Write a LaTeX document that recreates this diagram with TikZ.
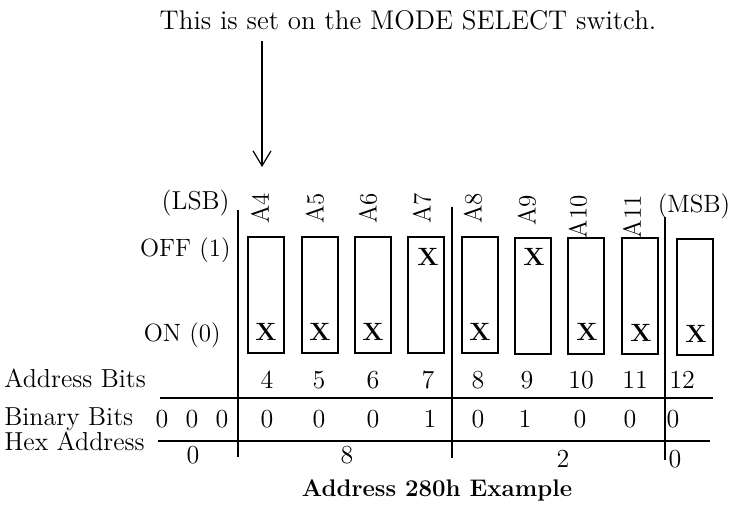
\documentclass[tikz,border=0pt]{standalone}
\usepackage{tikz}
\usetikzlibrary{arrows.meta}

\begin{document}
\begin{tikzpicture}[
    x=0.5pt, y=-0.5pt,
    % Styles for the switch picture
    switch/.style={draw, line width=1.3pt, minimum width=18pt, minimum height=58pt, inner sep=0pt},
    xmark/.style={font=\fontsize{12.5}{14}\bfseries\selectfont, inner sep=0pt},
    lbl/.style={font=\fontsize{13}{15}\selectfont, inner sep=0pt, anchor=base},
    bitname/.style={font=\fontsize{12.5}{14}\selectfont, inner sep=0pt, rotate=90, anchor=east},
    rule/.style={line width=1.1pt},
    pointer/.style={line width=0.6pt, -{Straight Barb[length=7.5pt, width=9pt]}}
]
    \useasboundingbox (0,0) rectangle (733,507);

        % --- Note and arrow ---
        \node[font=\fontsize{13.5}{16}\selectfont, inner sep=5pt, anchor=base] (note) at (408,30) {This is set on the MODE SELECT switch.};
        \coordinate (tip) at (262,167);
        \draw[pointer] (note.south -| tip) -- (tip);

        % --- Side labels ---
        \node[lbl, anchor=base east] (lsb) at (230,210) {(LSB)};
        \node[lbl, font=\fontsize{12.5}{15}\selectfont] (msb) at (694,213) {(MSB)};
        \node[lbl, anchor=base east, font=\fontsize{12.5}{15}\selectfont] (off) at (231,257) {OFF (1)};
        \node[lbl, anchor=base east, font=\fontsize{12.5}{15}\selectfont] (on) at (221,342) {ON (0)};

        % --- Bit names ---
        \node[bitname] (a4) at (260,193) {A4};
        \node[bitname] (a5) at (315,193) {A5};
        \node[bitname] (a6) at (368,193) {A6};
        \node[bitname] (a7) at (422,193) {A7};
        \node[bitname] (a8) at (473,193) {A8};
        \node[bitname] (a9) at (527,195) {A9};
        \node[bitname] (a10) at (578,195) {A10};
        \node[bitname] (a11) at (632,195) {A11};

        % --- Switches ---
        \node[switch] (sw4) at (266,295) {};
        \node[switch] (sw5) at (320,295) {};
        \node[switch] (sw6) at (373,295) {};
        \node[switch] (sw7) at (426,295) {};
        \node[switch] (sw8) at (480,295) {};
        \node[switch] (sw9) at (533,296) {};
        \node[switch] (sw10) at (586,296) {};
        \node[switch] (sw11) at (640,296) {};
        \node[switch] (sw12) at (695,297) {};

        % --- Switch settings ---
        \node[xmark] (x4) at (266,332) {X};
        \node[xmark] (x5) at (320,332) {X};
        \node[xmark] (x6) at (373,332) {X};
        \node[xmark] (x7) at (428,257) {X};
        \node[xmark] (x8) at (480,332) {X};
        \node[xmark] (x9) at (534,257) {X};
        \node[xmark] (x10) at (587,332) {X};
        \node[xmark] (x11) at (641,333) {X};
        \node[xmark] (x12) at (696,334) {X};

        % --- Table rules ---
        \draw[rule] (238,210) -- (238,457);
        \draw[rule] (452,207) -- (452,458);
        \draw[rule] (665,217) -- (665,460);
        \draw[rule] (160,398) -- (713,398);
        \draw[rule] (158,441) -- (710,441);

        % --- Address bits row ---
        \node[lbl, anchor=base west] (addr) at (4,387) {Address Bits};
        \node[lbl] (n4) at (267,388) {4};
        \node[lbl] (n5) at (319,388) {5};
        \node[lbl] (n6) at (373,388) {6};
        \node[lbl] (n7) at (428,388) {7};
        \node[lbl] (n8) at (478,388) {8};
        \node[lbl] (n9) at (527,388) {9};
        \node[lbl] (n10) at (581,388) {10};
        \node[lbl] (n11) at (635,388) {11};
        \node[lbl] (n12) at (682,388) {12};

        % --- Binary bits row ---
        \node[lbl, anchor=base west] (bin) at (4,425) {Binary Bits};
        \node[lbl] (b1) at (162,427) {0};
        \node[lbl] (b2) at (192,427) {0};
        \node[lbl] (b3) at (222,427) {0};
        \node[lbl] (b4) at (267,427) {0};
        \node[lbl] (b5) at (319,427) {0};
        \node[lbl] (b6) at (373,427) {0};
        \node[lbl] (b7) at (430,427) {1};
        \node[lbl] (b8) at (478,427) {0};
        \node[lbl] (b9) at (525,427) {1};
        \node[lbl] (b10) at (580,427) {0};
        \node[lbl] (b11) at (630,427) {0};
        \node[lbl] (b12) at (673,427) {0};

        % --- Hex address row ---
        \node[lbl, anchor=base west] (hex) at (4,450) {Hex Address};
        \node[lbl] (h0) at (193,463) {0};
        \node[lbl] (h8) at (347,463) {8};
        \node[lbl] (h2) at (563,467) {2};
        \node[lbl] (h00) at (675,467) {0};

        % --- Caption ---
        \node[font=\fontsize{12}{14}\bfseries\selectfont, inner sep=0pt, anchor=base] (cap) at (437,496) {Address 280h Example};

    \end{tikzpicture}
\end{document}
